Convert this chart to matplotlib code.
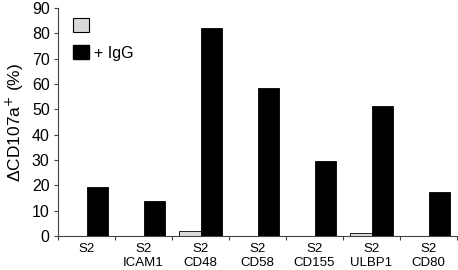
import matplotlib
matplotlib.use("Agg")
import matplotlib.pyplot as plt
import numpy as np
from matplotlib.patches import Patch

plt.rcParams['font.family'] = ['Liberation Sans', 'DejaVu Sans']

categories = ["S2", "S2\nICAM1", "S2\nCD48", "S2\nCD58", "S2\nCD155", "S2\nULBP1", "S2\nCD80"]
control = [0, 0, 1.8, 0, 0, 1.2, 0]
igg = [19.5, 14, 82, 58.5, 29.5, 51.5, 17.5]
legend_labels = ["", "+ IgG"]
yticks = [0, 10, 20, 30, 40, 50, 60, 70, 80, 90]

fig = plt.figure(figsize=(4.58, 2.70), dpi=100)
ax = fig.add_axes([58/458, 1-236/270, 399/458, 228/270])

x = np.arange(len(categories))
w = 0.385
ax.bar(x - w/2, control, w, color="#d9d9d9", edgecolor="black", linewidth=0.6)
ax.bar(x + w/2, igg, w, color="black", edgecolor="black", linewidth=0.6)

ax.set_xlim(-0.5, len(categories) - 0.5)
ax.set_ylim(0, 90)
ax.set_yticks(yticks)
ax.tick_params(axis='y', labelsize=11.5, length=3, width=0.8, color="#444444", pad=3)
ax.set_xticks(x)
ax.set_xticklabels(categories, fontsize=9.5, linespacing=1.2)
ax.tick_params(axis='x', length=0, pad=5)
ax.set_xticks(np.arange(len(categories) + 1) - 0.5, minor=True)
ax.tick_params(axis='x', which='minor', length=3, width=0.8, color="#444444")

for s in ["top", "right"]:
    ax.spines[s].set_visible(False)
for s in ["left", "bottom"]:
    ax.spines[s].set_color("#444444")
    ax.spines[s].set_linewidth(0.8)

ax.set_ylabel("ΔCD107a$^{+}$ (%)", fontsize=12.5, labelpad=4)

handles = [Patch(facecolor="#d9d9d9", edgecolor="black", linewidth=0.8),
           Patch(facecolor="black", edgecolor="black")]
ax.legend(handles, legend_labels, loc="upper left", bbox_to_anchor=(0.037, 0.958),
          frameon=False, fontsize=11.5, handlelength=1.0, handleheight=1.0,
          labelspacing=0.75, handletextpad=0.35, borderaxespad=0, borderpad=0)

fig.savefig("out.png", dpi=100)
